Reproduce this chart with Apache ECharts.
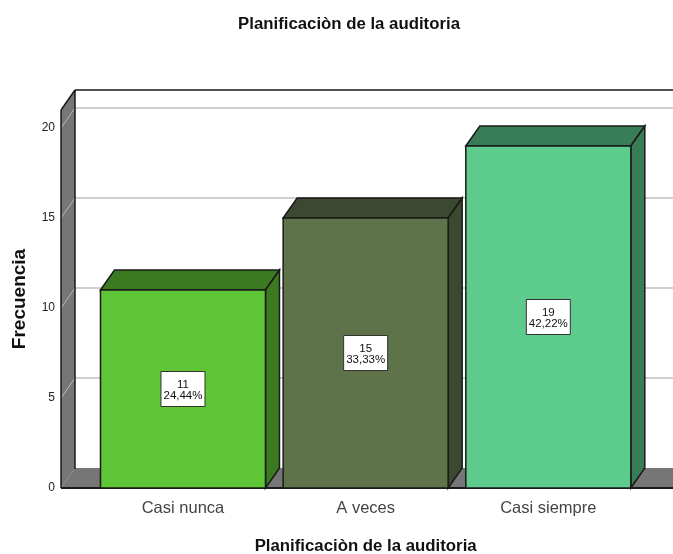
<!DOCTYPE html>
<html><head><meta charset="utf-8">
<style>html,body{margin:0;padding:0;background:#fff}#c{width:673px;height:554px}</style>
<script src="https://cdn.jsdelivr.net/npm/echarts@6/dist/echarts.min.js"></script>
</head><body><div id="c"></div>
<script>
const categories = ['Casi nunca', 'A veces', 'Casi siempre'];
const counts = [11, 15, 19];
const percents = ['24,44%', '33,33%', '42,22%'];
const gridTicks = [5, 10, 15, 20];
const frontColors = ['#5ec537', '#5e7349', '#5ccb8b'];
const sideColors = ['#3c7a22', '#3c4930', '#387d55'];

const DX = 14, DY = -20, WALL = '#767676', EDGE = '#1a1a1a', RIGHT = 673;
const FONT = '"Liberation Sans", Arial, sans-serif';

const chart = echarts.init(document.getElementById('c'), null, {renderer: 'canvas'});

function poly(points, fill, stroke, lw) {
  return {type: 'polygon', shape: {points},
    style: {fill, stroke: stroke || null, lineWidth: lw || 0}};
}
function line(a, b, stroke, lw) {
  return {type: 'line', shape: {x1: a[0], y1: a[1], x2: b[0], y2: b[1]},
    style: {stroke, lineWidth: lw}};
}

const wallLeft = 61;

chart.setOption({
  animation: false,
  backgroundColor: '#fff',
  title: {
    text: 'Planificaciòn de la auditoria', left: 344, top: 11, textAlign: 'center',
    textStyle: {fontFamily: FONT, fontSize: 16.8, fontWeight: 'bold', color: '#111'}
  },
  grid: {left: 91.65, width: 548, top: 110, height: 378, outerBoundsMode: 'none'},
  xAxis: {
    type: 'category', data: categories,
    name: 'Planificaciòn de la auditoria', nameLocation: 'middle', nameGap: 50,
    nameTextStyle: {fontFamily: FONT, fontSize: 16.8, fontWeight: 'bold', color: '#111'},
    axisLine: {show: false}, axisTick: {show: false},
    axisLabel: {fontFamily: FONT, fontSize: 16.5, color: '#444', margin: 12}
  },
  yAxis: {
    type: 'value', min: 0, max: 21, interval: 5, offset: 30.65,
    name: 'Frecuencia', nameLocation: 'middle', nameGap: 32, nameRotate: 90,
    nameTextStyle: {fontFamily: FONT, fontSize: 19, fontWeight: 'bold', color: '#111'},
    axisLine: {show: false}, axisTick: {show: false}, splitLine: {show: false},
    axisLabel: {fontFamily: FONT, fontSize: 12, color: '#222', margin: 6, showMaxLabel: false, padding: [4, 0, 0, 0]}
  },
  series: [
    {
      // walls, floor and gridlines
      type: 'custom', coordinateSystem: 'cartesian2d', silent: true, z: 1, clip: false,
      data: [[0, 0]],
      renderItem(params, api) {
        const yAt = v => api.coord([0, v])[1];
        const y0 = yAt(0), yTop = yAt(21);
        const L = wallLeft, B = L + DX;
        const kids = [
          poly([[B, y0 + DY], [RIGHT, y0 + DY], [RIGHT, y0], [L, y0]], WALL),
          poly([[L, yTop], [B, yTop + DY], [B, y0 + DY], [L, y0]], WALL),
        ];
        gridTicks.forEach(t => {
          const y = yAt(t);
          kids.push(line([L, y], [B, y + DY], '#b8b8b8', 1));
          kids.push(line([B, y + DY], [RIGHT, y + DY], '#cfcfcf', 2));
        });
        kids.push(line([L, yTop], [L, y0], EDGE, 1.5));
        kids.push(line([B, yTop + DY], [B, y0 + DY + 1], EDGE, 1.5));
        kids.push(line([L, yTop], [B, yTop + DY], EDGE, 1.5));
        kids.push(line([B, yTop + DY], [RIGHT, yTop + DY], EDGE, 1.5));
        kids.push(line([L, y0], [RIGHT, y0], EDGE, 2));
        return {type: 'group', children: kids};
      }
    },
    {
      type: 'custom', coordinateSystem: 'cartesian2d', silent: true, z: 2, clip: false,
      encode: {x: 0, y: 1},
      data: counts.map((v, i) => [i, v]),
      renderItem(params, api) {
        const i = api.value(0), v = api.value(1);
        const top = api.coord([i, v]);
        const base = api.coord([i, 0]);
        const w = api.size([1, 0])[0] * 0.9034;
        const l = top[0] - w / 2, r = top[0] + w / 2;
        const t = top[1], b = base[1];
        const lw = 1.5;
        return {type: 'group', children: [
          poly([[l, t], [l + DX, t + DY], [r + DX, t + DY], [r, t]], sideColors[i], EDGE, lw),
          poly([[r, t], [r + DX, t + DY], [r + DX, b + DY], [r, b]], sideColors[i], EDGE, lw),
          {type: 'rect', shape: {x: l, y: t, width: w, height: b - t},
            style: {fill: frontColors[i], stroke: EDGE, lineWidth: lw}},
          {type: 'rect', shape: {x: top[0] - 22, y: (t + b) / 2 - 17.5, width: 44, height: 35},
            style: {fill: '#fff', stroke: '#333', lineWidth: 1}},
          {type: 'text', x: top[0], y: (t + b) / 2 + 1,
            style: {text: counts[i] + '\n' + percents[i], align: 'center', verticalAlign: 'middle',
              font: '11.5px ' + FONT, lineHeight: 11, fill: '#111'}}
        ]};
      }
    }
  ]
});
</script></body></html>
